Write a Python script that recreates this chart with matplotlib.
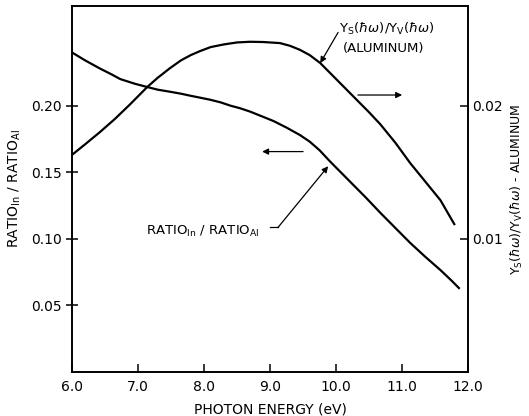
import numpy as np
import matplotlib
matplotlib.use('Agg')
import matplotlib.pyplot as plt

plt.rcParams['font.family'] = 'DejaVu Sans'
plt.rcParams['mathtext.fontset'] = 'dejavusans'

# RATIO_In / RATIO_Al  (left axis)
ratio_e = [6.0, 6.2, 6.42, 6.6, 6.73, 6.95, 7.14, 7.3, 7.48, 7.65, 7.79, 7.94, 8.09,
           8.25, 8.4, 8.55, 8.7, 8.9, 9.05, 9.25, 9.45, 9.6, 9.75, 9.91, 10.05, 10.21,
           10.45, 10.67, 10.9, 11.12, 11.35, 11.58, 11.75, 11.86]
ratio_v = [0.240, 0.234, 0.228, 0.2235, 0.220, 0.2165, 0.214, 0.212, 0.2105, 0.209,
           0.2075, 0.206, 0.2045, 0.2025, 0.200, 0.198, 0.1955, 0.1915, 0.1885, 0.1835,
           0.178, 0.173, 0.1665, 0.158, 0.151, 0.143, 0.131, 0.1195, 0.108, 0.097,
           0.0865, 0.0765, 0.0685, 0.063]

# Ys/Yv (aluminum)  (right axis)
al_e = [6.0, 6.2, 6.42, 6.65, 6.88, 7.14, 7.3, 7.48, 7.65, 7.8, 7.94, 8.1, 8.3, 8.5,
        8.7, 8.9, 9.15, 9.3, 9.45, 9.6, 9.76, 9.9, 10.06, 10.2, 10.32, 10.5, 10.67,
        10.9, 11.12, 11.35, 11.58, 11.79]
al_v = [0.0163, 0.0171, 0.0180, 0.0190, 0.0201, 0.0214, 0.0221, 0.0228, 0.0234, 0.0238,
        0.0241, 0.0244, 0.0246, 0.02475, 0.0248, 0.02478, 0.0247, 0.0245, 0.0242, 0.0238,
        0.0232, 0.0225, 0.0217, 0.0210, 0.0204, 0.0195, 0.0186, 0.0172, 0.0157, 0.0143,
        0.0129, 0.0111]

x_ticks = [6.0, 7.0, 8.0, 9.0, 10.0, 11.0, 12.0]
left_ticks = [0.05, 0.10, 0.15, 0.20]
right_ticks = [0.01, 0.02]

fig = plt.figure(figsize=(5.29, 4.16), dpi=100)
ax = fig.add_axes([0.136, 0.106, 0.749, 0.880])
ax2 = ax.twinx()

ax.plot(ratio_e, ratio_v, color='black', lw=1.6)
ax2.plot(al_e, al_v, color='black', lw=1.6)

ax.set_xlim(6.0, 12.0)
ax.set_ylim(0.0, 0.275)
ax2.set_ylim(0.0, 0.0275)

ax.set_xticks(x_ticks)
ax.set_xticklabels(['%.1f' % t for t in x_ticks])
ax.set_yticks(left_ticks)
ax.set_yticklabels(['%.2f' % t for t in left_ticks])
ax2.set_yticks(right_ticks)
ax2.set_yticklabels(['%.2f' % t for t in right_ticks])

ax.tick_params(axis='x', direction='in', length=6, width=1.1, labelsize=10, pad=6)
ax.tick_params(axis='y', direction='inout', length=8, width=1.1, labelsize=10, pad=3)
ax2.tick_params(axis='y', direction='in', length=6, width=1.1, labelsize=10, pad=3)
for a in (ax, ax2):
    for s in a.spines.values():
        s.set_linewidth(1.2)

ax.set_xlabel('PHOTON ENERGY (eV)', fontsize=10, labelpad=6)
ax.set_ylabel(r'RATIO$_{\mathrm{In}}$ / RATIO$_{\mathrm{Al}}$', fontsize=10, labelpad=6)
ax2.set_ylabel(r'Y$_{\mathrm{S}}$($\hbar\omega$)/Y$_{\mathrm{V}}$($\hbar\omega$) - ALUMINUM',
               fontsize=9, labelpad=4)

arr = dict(arrowstyle='-|>', color='black', lw=0.9, mutation_scale=9, shrinkA=0, shrinkB=0)

# labels with leaders
ax2.text(10.05, 0.0258, r'Y$_{\mathrm{S}}$($\hbar\omega$)/Y$_{\mathrm{V}}$($\hbar\omega$)',
         fontsize=9.5, ha='left', va='center')
ax2.text(10.1, 0.0243, '(ALUMINUM)', fontsize=9.5, ha='left', va='center')
ax2.annotate('', xy=(9.76, 0.0232), xytext=(10.03, 0.0255), arrowprops=arr)

ax.text(7.12, 0.1055, r'RATIO$_{\mathrm{In}}$ / RATIO$_{\mathrm{Al}}$',
        fontsize=9.5, ha='left', va='center')
ax.plot([9.0, 9.12], [0.1085, 0.1085], color='black', lw=0.9)
ax.annotate('', xy=(9.88, 0.1545), xytext=(9.12, 0.1085), arrowprops=arr)

# axis direction arrows
ax2.annotate('', xy=(11.0, 0.0208), xytext=(10.33, 0.0208), arrowprops=arr)
ax.annotate('', xy=(8.88, 0.1655), xytext=(9.5, 0.1655), arrowprops=arr)

fig.savefig('out.png', dpi=100)
